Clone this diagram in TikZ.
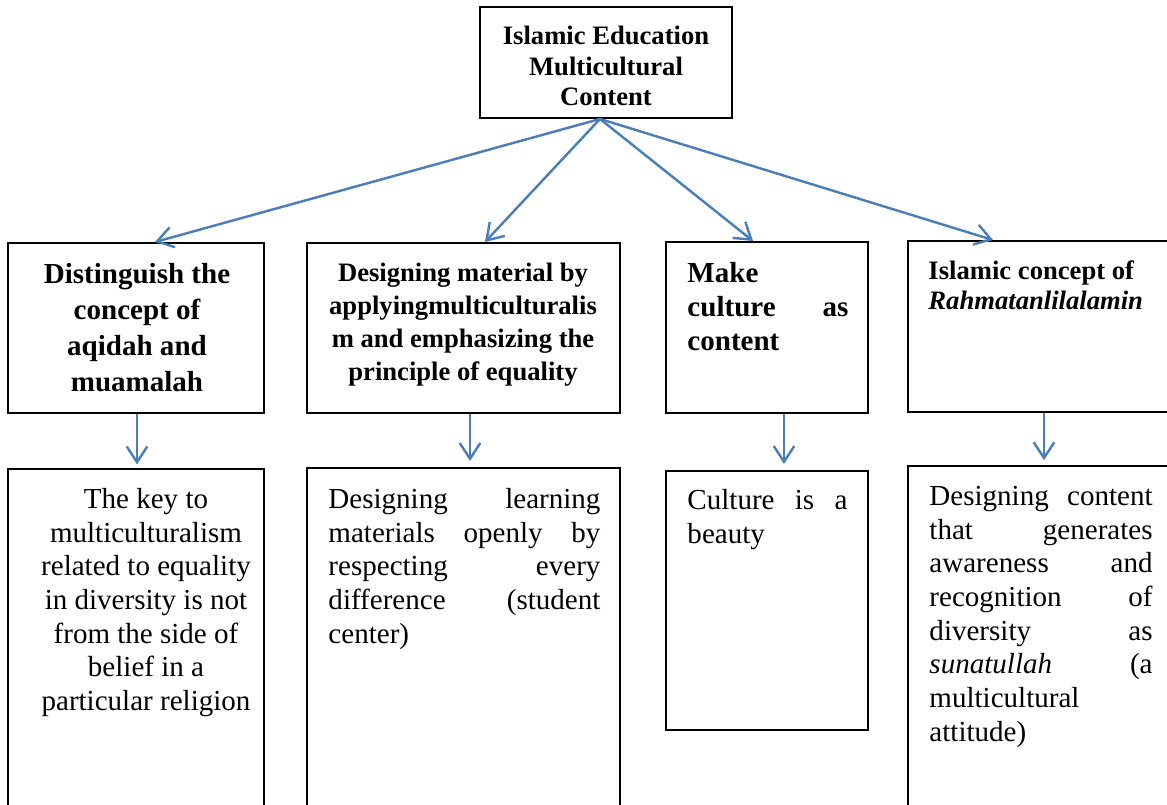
\documentclass[tikz,border=0pt]{standalone}
\usepackage{fontspec}
\setmainfont{Liberation Serif}
\usetikzlibrary{arrows.meta,fit}
\definecolor{linkblue}{RGB}{74,126,187}

\begin{document}
\begin{tikzpicture}[x=0.4133pt,y=-0.4133pt,
    frame/.style={draw,line width=0.8pt,inner sep=0pt},
    link/.style={draw=linkblue,line width=1pt,-{Straight Barb[length=6.5pt,width=8.5pt]}},
    head/.style={inner sep=0pt,anchor=north,align=center,font=\bfseries},
    note/.style={inner sep=0pt,anchor=north west,align=justify,
      execute at begin node={\tolerance=10000\hbadness=10000}}]
  \useasboundingbox (0,0) rectangle (1167,805);
  \clip (0,0) rectangle (1167,805);

  % frames
  \node[frame,fit={(480,7) (732,118)}] (title) {};
  \node[frame,fit={(8,243) (264,413)}] (aqidah) {};
  \node[frame,fit={(307,243) (620,413)}] (design) {};
  \node[frame,fit={(666,242) (868,413)}] (culture) {};
  \node[frame,fit={(908,241) (1190,412)}] (rahmah) {};
  \node[frame,fit={(8,469) (264,830)}] (key) {};
  \node[frame,fit={(307,468) (620,830)}] (open) {};
  \node[frame,fit={(666,471) (868,730)}] (beauty) {};
  \node[frame,fit={(908,466) (1190,830)}] (aware) {};

  % texts
  \node[head,font=\fontsize{11}{12.5}\selectfont\bfseries] (titletxt) at (606,26)
    {Islamic Education\\Multicultural\\Content};
  \node[head,font=\fontsize{12}{14.8}\selectfont\bfseries] (aqidahtxt) at (137,263)
    {Distinguish the\\concept of\\aqidah and\\muamalah};
  \node[head,font=\fontsize{11}{13.6}\selectfont\bfseries] (designtxt) at (463,263)
    {Designing material by\\applyingmulticulturalis\\m and emphasizing the\\principle of equality};
  \node[note,text width=66.5pt,font=\fontsize{12}{14}\selectfont\bfseries] (culturetxt) at (687,262)
    {Make\linebreak culture as\linebreak content};
  \node[note,align=left,font=\fontsize{11}{12.4}\selectfont\bfseries] (rahmahtxt) at (928,260)
    {Islamic concept of\\\textit{Rahmatanlilalamin}};
  \node[head,font=\fontsize{12}{13.9}\selectfont] (keytxt) at (146,488)
    {The key to\\multiculturalism\\related to equality\\in diversity is not\\from the side of\\belief in a\\particular religion};
  \node[note,text width=112.4pt,font=\fontsize{12}{13.9}\selectfont] (opentxt) at (328,488)
    {Designing learning\linebreak materials openly by\linebreak respecting every\linebreak
     difference (student\linebreak center)};
  \node[note,text width=66.1pt,font=\fontsize{12}{13.9}\selectfont] (beautytxt) at (687,489)
    {Culture is a\linebreak beauty};
  \node[note,text width=92.2pt,font=\fontsize{12}{13.9}\selectfont] (awaretxt) at (929,486)
    {Designing content\linebreak that generates\linebreak awareness and\linebreak recognition of\linebreak
     diversity as\linebreak \textit{sunatullah} (a\linebreak multicultural\linebreak attitude)};

  % arrows
  \draw[link] (title.south -| 600,0) -- (aqidah.north -| 155,0);
  \draw[link] (title.south -| 600,0) -- (design.north -| 485,0);
  \draw[link] (title.south -| 600,0) -- (culture.north -| 753,0);
  \draw[link] (title.south -| 600,0) -- (rahmah.north -| 993,0);
  \draw[link,shorten >=1.5pt] (aqidah.south -| 137,0) -- (key.north -| 137,0);
  \draw[link,shorten >=2.5pt] (design.south -| 470,0) -- (open.north -| 470,0);
  \draw[link,shorten >=2.5pt] (culture.south -| 784,0) -- (beauty.north -| 784,0);
  \draw[link,shorten >=2pt] (rahmah.south -| 1044,0) -- (aware.north -| 1044,0);
\end{tikzpicture}
\end{document}
